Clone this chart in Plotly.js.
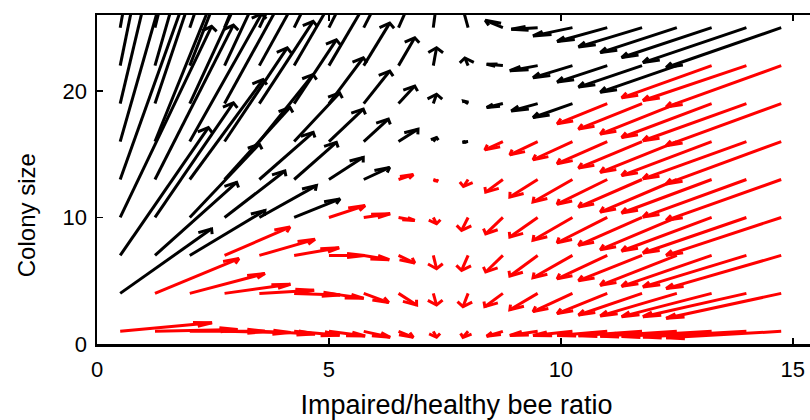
<!DOCTYPE html>
<html><head><meta charset="utf-8">
<script src="https://cdn.plot.ly/plotly-3.0.1.min.js"></script>
<style>html,body{margin:0;padding:0;overflow:hidden;background:#fff;} #chart{width:840px;height:420px;}</style>
</head><body><div id="chart"></div>
<script>
// grid of arrow tails
const xGrid = [0.5, 1.25, 2.0, 2.75, 3.5, 4.25, 5.0, 5.75, 6.5, 7.25, 8.0, 8.75, 9.5, 10.25, 11.0, 11.75, 12.5, 13.25, 14.0, 14.75];
const yGrid = [1, 4, 7, 10, 13, 16, 19, 22, 25];

// arrow components (plotted length, data units), one pair of arrays per row
const u_y1  = [1.98, 1.78, 1.62, 1.42, 1.20, 0.98, 0.78, 0.57, 0.32, 0.07, -0.11, -0.35, -0.60, -0.85, -1.08, -1.37, -1.65, -1.94, -2.23, -2.48];
const v_y1  = [0.68, 0.15, 0.00, -0.10, -0.20, -0.30, -0.37, -0.47, -0.47, -0.47, -0.47, -0.39, -0.33, -0.33, -0.33, -0.35, -0.38, -0.40, -0.45, -0.50];
const u_y4  = [1.97, 1.81, 1.62, 1.42, 1.18, 0.99, 0.75, 0.54, 0.39, 0.07, -0.11, -0.39, -0.60, -0.85, -1.08, -1.37, -1.65, -1.94, -2.23, -2.48];
const v_y4  = [5.10, 2.75, 1.57, 0.72, 0.25, -0.12, -0.39, -0.73, -0.92, -0.92, -1.05, -1.05, -1.30, -1.44, -1.60, -1.71, -1.78, -1.84, -1.84, -1.97];
const u_y7  = [1.90, 1.76, 1.62, 1.41, 1.20, 0.97, 0.77, 0.55, 0.35, 0.07, -0.14, -0.37, -0.60, -0.85, -1.08, -1.37, -1.65, -1.94, -2.23, -2.48];
const v_y7  = [10.1, 5.78, 3.55, 2.24, 1.27, 0.60, 0.00, -0.34, -0.60, -1.05, -1.18, -1.31, -1.63, -1.76, -1.85, -2.00, -2.36, -2.44, -2.49, -2.62];
const u_y10 = [1.97, 1.69, 1.50, 1.30, 1.23, 0.99, 0.78, 0.57, 0.35, 0.07, -0.14, -0.37, -0.60, -0.85, -1.08, -1.37, -1.65, -1.94, -2.23, -2.48];
const v_y10 = [15.1, 9.06, 5.80, 3.67, 2.52, 1.47, 0.94, 0.29, -0.24, -0.50, -1.02, -1.29, -1.55, -1.80, -2.00, -2.20, -2.55, -2.65, -2.81, -2.99];
const u_y13 = [1.95, 1.69, 1.58, 1.41, 1.16, 0.91, 0.74, 0.56, 0.32, 0.10, -0.10, -0.37, -0.60, -0.85, -1.08, -1.37, -1.65, -1.94, -2.23, -2.48];
const v_y13 = [20.0, 12.2, 7.90, 5.70, 3.72, 2.93, 1.75, 0.96, 0.39, -0.13, -0.55, -1.00, -1.39, -1.78, -1.95, -2.18, -2.57, -2.65, -2.97, -3.23];
const u_y16 = [1.95, 1.70, 1.55, 1.35, 1.16, 0.98, 0.74, 0.53, 0.42, 0.07, -0.12, -0.39, -0.60, -0.85, -1.08, -1.37, -1.65, -1.94, -2.23, -2.48];
const v_y16 = [25.0, 15.4, 10.1, 7.40, 5.30, 3.84, 2.56, 1.77, 0.98, 0.32, -0.05, -0.66, -1.05, -1.44, -1.75, -2.10, -2.43, -2.69, -2.95, -3.35];
const u_y19 = [1.95, 1.70, 1.55, 1.35, 1.16, 0.91, 0.74, 0.56, 0.35, 0.07, -0.10, -0.35, -0.57, -0.85, -1.08, -1.37, -1.65, -1.94, -2.23, -2.48];
const v_y19 = [30.0, 18.5, 12.3, 9.00, 6.50, 5.04, 3.62, 2.57, 1.39, 0.74, 0.20, -0.31, -0.58, -1.10, -1.60, -2.02, -2.41, -2.68, -2.94, -3.33];
const u_y22 = [1.95, 1.70, 1.55, 1.35, 1.16, 0.95, 0.77, 0.56, 0.35, 0.07, -0.07, -0.35, -0.60, -0.85, -1.08, -1.37, -1.65, -1.94, -2.23, -2.48];
const v_y22 = [35.0, 21.7, 14.5, 10.6, 7.70, 6.00, 4.80, 3.36, 2.20, 1.41, 0.60, 0.10, -0.40, -0.95, -1.30, -1.70, -2.10, -2.55, -2.76, -3.28];
const u_y25 = [1.95, 1.70, 1.55, 1.35, 1.16, 0.95, 0.77, 0.56, 0.35, 0.07, -0.12, -0.38, -0.57, -0.85, -1.08, -1.37, -1.65, -1.94, -2.23, -2.48];
const v_y25 = [40.0, 24.9, 16.7, 12.3, 9.00, 7.00, 5.60, 4.00, 2.90, 2.00, 1.60, 0.58, -0.13, -0.65, -1.10, -1.52, -1.97, -2.36, -2.76, -3.15];

// number of leading (left-most) arrows drawn black in each row; the rest are red
const blackCount = [0, 1, 3, 6, 8, 11, 14, 17, 20];

const xTicks = [0, 5, 10, 15];
const yTicks = [0, 10, 20];

const U = [u_y1, u_y4, u_y7, u_y10, u_y13, u_y16, u_y19, u_y22, u_y25];
const V = [v_y1, v_y4, v_y7, v_y10, v_y13, v_y16, v_y19, v_y22, v_y25];

const seg = {black: {x: [], y: []}, red: {x: [], y: []}};
function addArrow(s, x0, y0, u, v) {
  const tx = x0 + u, ty = y0 + v;
  const len = Math.hypot(u, v);
  s.x.push(x0, tx, null); s.y.push(y0, ty, null);
  if (len < 1e-6) return;
  const dx = u / len, dy = v / len;
  const La = Math.min(0.38, 0.6 * len), Wb = 0.42 * La;
  const px = -dy, py = dx;
  s.x.push(tx - La * dx + Wb * px, tx, tx - La * dx - Wb * px, null);
  s.y.push(ty - La * dy + Wb * py, ty, ty - La * dy - Wb * py, null);
}
for (let j = 0; j < yGrid.length; j++) {
  for (let i = 0; i < xGrid.length; i++) {
    const s = i < blackCount[j] ? seg.black : seg.red;
    addArrow(s, xGrid[i], yGrid[j], U[j][i], V[j][i]);
  }
}

const traces = [
  {x: seg.black.x, y: seg.black.y, mode: 'lines', line: {color: '#000000', width: 3}, hoverinfo: 'skip', showlegend: false},
  {x: seg.red.x, y: seg.red.y, mode: 'lines', line: {color: '#ff0000', width: 3}, hoverinfo: 'skip', showlegend: false}
];

const font = {family: 'Liberation Sans, Arial, Helvetica, sans-serif', color: '#000000'};
const layout = {
  width: 840, height: 420,
  margin: {l: 97, r: 24, t: 15, b: 76},
  paper_bgcolor: '#ffffff', plot_bgcolor: '#ffffff',
  showlegend: false,
  xaxis: {
    range: [0, 15.5], tickvals: xTicks, ticktext: xTicks.map(String),
    ticks: 'inside', ticklen: 6, tickwidth: 1.5, tickcolor: '#000',
    showline: true, linewidth: 2.5, linecolor: '#000', mirror: 'allticks',
    showgrid: false, zeroline: false,
    tickfont: Object.assign({size: 22}, font), ticklabelstandoff: 4,
    title: {text: 'Impaired/healthy bee ratio', font: Object.assign({size: 27}, font), standoff: 22}
  },
  yaxis: {
    range: [0, 26], tickvals: yTicks, ticktext: yTicks.map(String),
    ticks: 'inside', ticklen: 6, tickwidth: 1.5, tickcolor: '#000',
    showline: true, linewidth: 2.5, linecolor: '#000', mirror: 'allticks',
    showgrid: false, zeroline: false,
    tickfont: Object.assign({size: 22}, font), ticklabelstandoff: 3
  },
  annotations: [{
    text: 'Colony size', textangle: -90, showarrow: false,
    xref: 'paper', yref: 'paper', x: -0.098, y: 0.39, xanchor: 'center', yanchor: 'middle',
    font: Object.assign({size: 24}, font)
  }]
};
Plotly.newPlot('chart', traces, layout, {displayModeBar: false, staticPlot: true});
</script></body></html>
